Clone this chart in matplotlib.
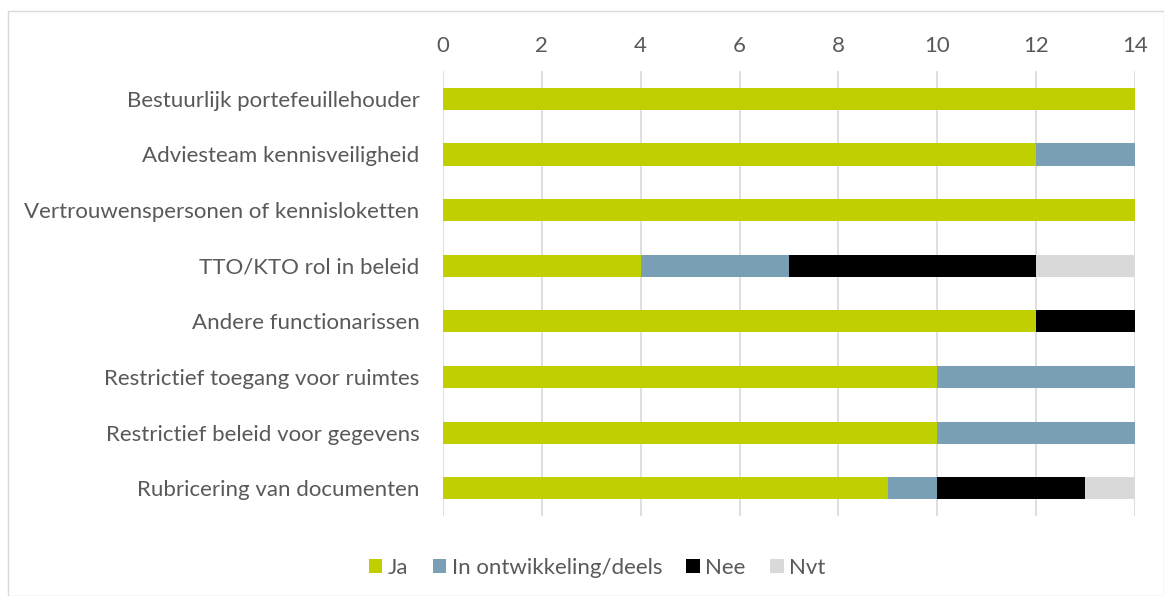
import numpy as np
import matplotlib.pyplot as plt
from matplotlib.patches import Rectangle

plt.rcParams['font.family'] = ['Lato', 'DejaVu Sans']

#Data
categories = ['Bestuurlijk portefeuillehouder', 'Adviesteam kennisveiligheid',
              'Vertrouwenspersonen of kennisloketten', 'TTO/KTO rol in beleid',
              'Andere functionarissen', 'Restrictief toegang voor ruimtes',
              'Restrictief beleid voor gegevens', 'Rubricering van documenten']
ja = [14, 12, 14, 4, 12, 10, 10, 9]
in_ontw = [0, 2, 0, 3, 0, 4, 4, 1]
nee = [0, 0, 0, 5, 2, 0, 0, 3]
nvt = [0, 0, 0, 2, 0, 0, 0, 1]

series = [('Ja', ja, '#BFCF00'),
          ('In ontwikkeling/deels', in_ontw, '#789FB4'),
          ('Nee', nee, '#000000'),
          ('Nvt', nvt, '#D9D9D9')]

txt = '#595959'
fs = 16

fig = plt.figure(figsize=(11.64, 5.96), dpi=100)
ax = fig.add_axes([0.3806, 0.134, 0.5944, 0.747])

# outer chart border
fig.patches.append(Rectangle((8/1164, 0), 1 - 8/1164, 1 - 11/596,
                             transform=fig.transFigure, fill=False,
                             edgecolor='#D9D9D9', linewidth=1))

y = np.arange(len(categories))
left = np.zeros(len(categories))
for name, vals, col in series:
    vals = np.array(vals, dtype=float)
    ax.barh(y, vals, left=left, height=0.4, color=col, label=name, zorder=3)
    left += vals

ax.set_xlim(0, 14)
ax.set_ylim(len(categories) - 0.5, -0.5)
ax.set_xticks(range(0, 15, 2))
ax.set_yticks(y)
ax.set_yticklabels(categories)
ax.xaxis.tick_top()
ax.tick_params(axis='both', length=0, labelsize=fs, colors=txt)
ax.tick_params(axis='x', pad=11)
ax.tick_params(axis='y', pad=17)
ax.grid(axis='x', color='#D9D9D9', linewidth=1.2, zorder=0)
for s in ax.spines.values():
    s.set_visible(False)

fig.legend(loc='center', bbox_to_anchor=(0.513, 0.047), ncol=4, frameon=False,
           fontsize=fs, labelcolor=txt, handlelength=0.6, handleheight=0.6,
           handletextpad=0.25, columnspacing=1.1)

plt.savefig('out.png', dpi=100)
